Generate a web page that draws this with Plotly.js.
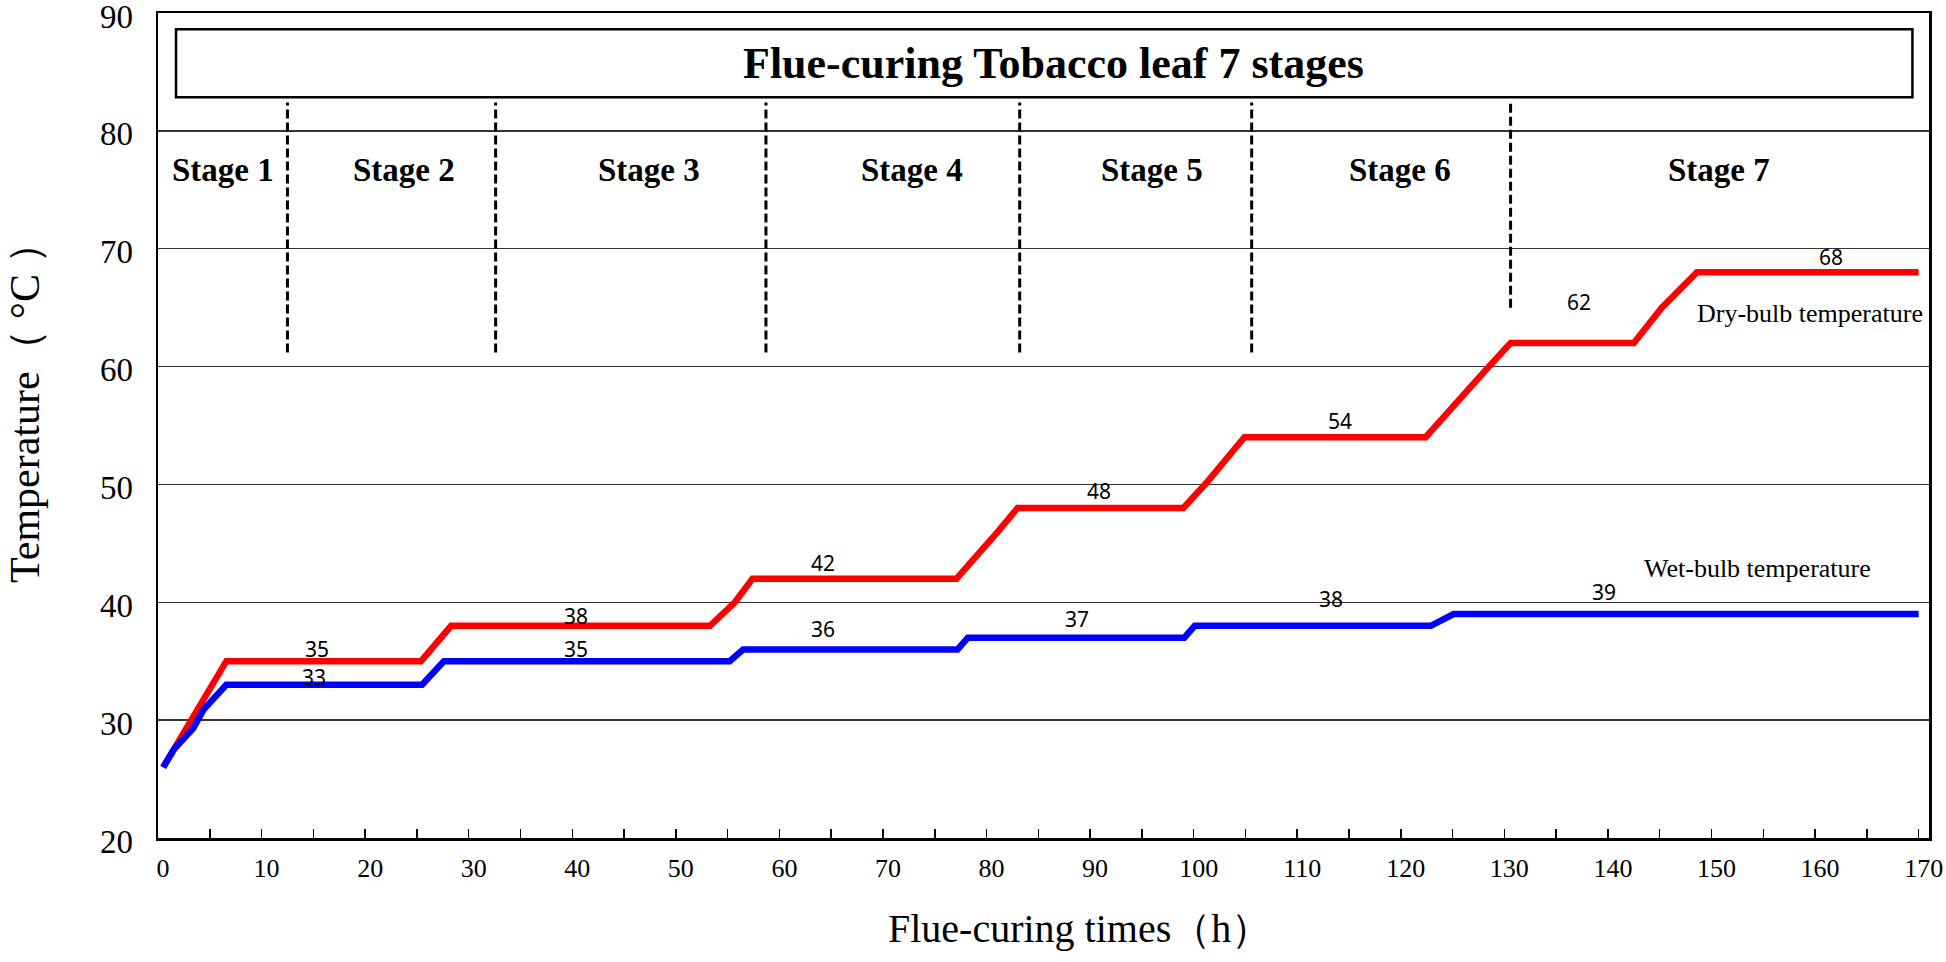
<!DOCTYPE html>
<html lang="en">
<head>
    <meta charset="UTF-8">
    <title>Flue-curing stages</title>
    <script src="https://cdn.plot.ly/plotly-3.0.1.min.js"></script>
    <style>
        body { margin: 0; background: #fff; }
        #plot { width: 1946px; height: 962px; }
    </style>
</head>
<body>
<div id="plot"></div>
<script>
    // dry-bulb curve (h, °C)
    dryHours = [0.5, 1.6, 6.6, 25.4, 28.3, 53.3, 55.7, 57.4, 77.1, 81.1, 83.0, 99.0, 101.2, 104.9, 122.4, 128.5, 130.6, 142.5, 145.2, 148.6, 170]
    dryTemp  = [26, 27.6, 35, 35, 38, 38, 40, 42, 42, 46, 48, 48, 50.1, 54, 54, 60, 62, 62, 65, 68, 68]

    // wet-bulb curve
    wetHours = [0.5, 1.6, 3.4, 4.4, 6.6, 25.5, 27.6, 55.2, 56.5, 77.2, 78.2, 99.1, 100.1, 122.9, 125.1, 170]
    wetTemp  = [26, 27.6, 29.3, 30.9, 33, 33, 35, 35, 36, 36, 37, 37, 38, 38, 39, 39]

    // set point labels
    dryLabels  = ['35', '38', '42', '48', '54', '62', '68']
    dryLabelX  = [15.4, 40.4, 64.2, 90.9, 114.1, 137.2, 161.5]
    dryLabelY  = [36.05, 38.8, 43.35, 49.45, 55.4, 65.45, 69.3]
    wetLabels  = ['33', '35', '36', '37', '38', '39']
    wetLabelX  = [15.1, 40.4, 64.2, 88.7, 113.3, 139.6]
    wetLabelY  = [33.65, 36.0, 37.7, 38.6, 40.3, 40.9]

    // stages
    stageNames  = ['Stage 1', 'Stage 2', 'Stage 3', 'Stage 4', 'Stage 5', 'Stage 6', 'Stage 7']
    stageCenter = [6.3, 23.8, 47.4, 72.8, 96.0, 119.9, 150.7]
    stageBounds = [12.5, 32.6, 58.7, 83.2, 105.6, 130.6]
    boundBottom = [61.2, 61.2, 61.2, 61.2, 61.2, 65.0]

    const serif = 'Liberation Serif, Times New Roman, serif'
    const sans = 'Noto Sans, Open Sans, sans-serif'

    const dry = {
        x: dryHours, y: dryTemp,
        mode: 'lines', type: 'scatter',
        line: {color: '#ff0000', width: 6.5},
        name: 'Dry-bulb temperature',
        hoverinfo: 'skip'
    }
    const wet = {
        x: wetHours, y: wetTemp,
        mode: 'lines', type: 'scatter',
        line: {color: '#0000ff', width: 6.5},
        name: 'Wet-bulb temperature',
        hoverinfo: 'skip'
    }

    const annotations = []
    dryLabels.forEach((t, i) => annotations.push({
        x: dryLabelX[i], y: dryLabelY[i], text: t, showarrow: false,
        font: {family: sans, size: 21, color: '#000'}
    }))
    wetLabels.forEach((t, i) => annotations.push({
        x: wetLabelX[i], y: wetLabelY[i], text: t, showarrow: false,
        font: {family: sans, size: 21, color: '#000'}
    }))
    stageNames.forEach((t, i) => annotations.push({
        x: stageCenter[i], y: 76.7, text: '<b>' + t + '</b>', showarrow: false,
        font: {family: serif, size: 33, color: '#000'}
    }))
    annotations.push({
        x: 86.5, y: 85.75, text: '<b>Flue-curing Tobacco leaf 7 stages</b>', showarrow: false,
        font: {family: serif, size: 44, color: '#000'}
    })
    annotations.push({
        x: 159.5, y: 64.5, text: 'Dry-bulb temperature', showarrow: false,
        font: {family: serif, size: 26, color: '#000'}
    })
    annotations.push({
        x: 154.4, y: 42.9, text: 'Wet-bulb temperature', showarrow: false,
        font: {family: serif, size: 26, color: '#000'}
    })
    // axis titles, placed off-centre like the original
    annotations.push({
        xref: 'paper', yref: 'paper', x: 0.5206, y: -0.1103,
        xanchor: 'center', yanchor: 'middle',
        text: 'Flue-curing times（h）', showarrow: false,
        font: {family: serif, size: 40, color: '#000'}
    })
    annotations.push({
        xref: 'paper', yref: 'paper', x: -0.0751, y: 0.5285, textangle: -90,
        xanchor: 'center', yanchor: 'middle',
        text: 'Temperature（ °C ）', showarrow: false,
        font: {family: serif, size: 42, color: '#000'}
    })

    const shapes = [{
        type: 'rect', xref: 'x', yref: 'y',
        x0: 1.74, x1: 169.4, y0: 82.85, y1: 88.62,
        line: {color: '#000', width: 2.5}
    }]
    stageBounds.forEach((b, i) => shapes.push({
        type: 'line', xref: 'x', yref: 'y',
        x0: b, x1: b, y0: boundBottom[i], y1: 82.4,
        line: {color: '#000', width: 3, dash: '9px,4px'}
    }))

    const layout = {
        width: 1946, height: 962,
        margin: {l: 158, r: 17, t: 13, b: 124},
        paper_bgcolor: '#fff', plot_bgcolor: '#fff',
        showlegend: false,
        xaxis: {
            range: [0, 171], dtick: 10, tick0: 0,
            showgrid: false, zeroline: false,
            ticks: 'inside', ticklen: 9, tickwidth: 1.5, tickcolor: '#000',
            minor: {dtick: 5, ticks: 'inside', ticklen: 9, tickwidth: 1.5, tickcolor: '#000', showgrid: false},
            showline: true, mirror: true, linecolor: '#000', linewidth: 2.5,
            ticklabelshift: 5, ticklabelstandoff: 5, ticklabeloverflow: 'allow',
            tickfont: {family: serif, size: 26, color: '#000'}
        },
        yaxis: {
            range: [20, 90], dtick: 10, tick0: 20,
            showgrid: true, gridcolor: '#333', gridwidth: 1.3, zeroline: false,
            ticks: '', showline: true, mirror: true, linecolor: '#000', linewidth: 2.5,
            ticklabelstandoff: 16, ticklabelshift: 3, ticklabeloverflow: 'allow',
            tickfont: {family: serif, size: 33, color: '#000'}
        },
        annotations: annotations,
        shapes: shapes
    }

    Plotly.newPlot('plot', [dry, wet], layout, {displayModeBar: false, staticPlot: true})
</script>
</body>
</html>
